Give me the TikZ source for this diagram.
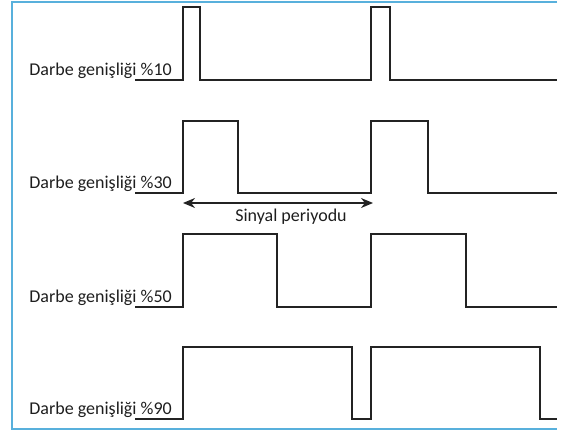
\documentclass[tikz,border=0pt]{standalone}
\usepackage{fontspec}
\setmainfont{Carlito}
\usetikzlibrary{arrows.meta}
\definecolor{frameblue}{RGB}{88,176,220}
\definecolor{wavegray}{RGB}{35,35,35}
\definecolor{labeltext}{RGB}{30,30,30}

\begin{document}
\begin{tikzpicture}[x=1pt,y=-1pt,
    wave/.style={line width=2pt,draw=wavegray,line join=miter},
    lbl/.style={font=\fontsize{18}{20}\selectfont,text=labeltext,inner sep=0pt}]
    \useasboundingbox (0,0) rectangle (565,431);
    % Frame
    \draw[frameblue,line width=2pt] (557,2) -- (12,2) -- (12,429) -- (557,429);
    % Signals
    \foreach \b/\h/\fa/\fb/\p in {80/7/200/390/10,193/121/238/428/30,307/234/277/466/50,419/347/352/540/90} {
        \node[lbl,anchor=base east] (lbl\p) at (172,\b-5) {Darbe genişliği \%\p};
        \draw[wave] (135,\b) -- (183,\b) -- (183,\h) -- (\fa,\h) -- (\fa,\b)
            -- (371,\b) -- (371,\h) -- (\fb,\h) -- (\fb,\b) -- (557,\b);
    }
    % Period
    \coordinate (pa) at (183,203);
    \coordinate (pb) at (373,203);
    \draw[wave,line width=1.3pt,{Stealth[length=12pt,width=10pt]}-{Stealth[length=12pt,width=10pt]}] (pa) -- (pb);
    \node[lbl] (period) at (291,217) {Sinyal periyodu};
\end{tikzpicture}
\end{document}
